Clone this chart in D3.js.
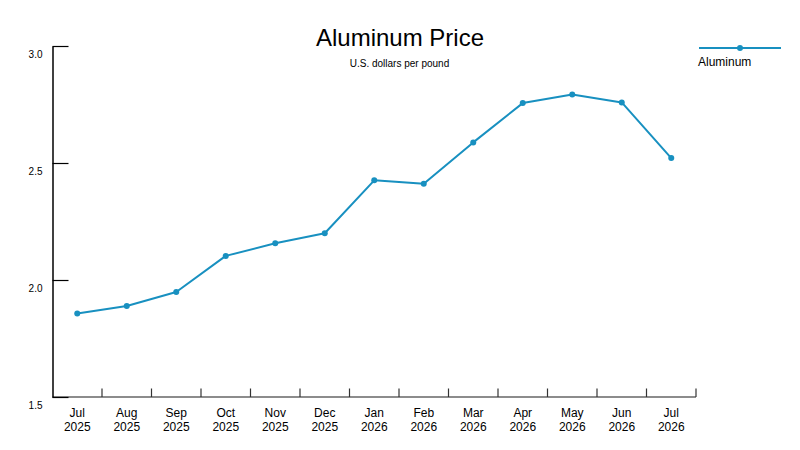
<!DOCTYPE html>
<html>
<head>
<meta charset="utf-8">
<script src="https://cdn.jsdelivr.net/npm/d3@7"></script>
<style>
  body { margin: 0; background: #fff; }
  svg { font-family: "Liberation Sans", Arial, sans-serif; }
</style>
</head>
<body>
<div id="chart-area"></div>
<script>
// Chart data
const months = ["Jul 2025", "Aug 2025", "Sep 2025", "Oct 2025", "Nov 2025", "Dec 2025",
                "Jan 2026", "Feb 2026", "Mar 2026", "Apr 2026", "May 2026", "Jun 2026", "Jul 2026"];
const prices = [1.857, 1.889, 1.949, 2.103, 2.157, 2.200, 2.426, 2.411, 2.588, 2.756, 2.793, 2.759, 2.521];
const yTicks = [1.5, 2.0, 2.5, 3.0];
const seriesName = "Aluminum";
const lineColor = "#1890c0";

const width = 800;
const height = 450;
const plot = { left: 52.5, right: 696, top: 46, bottom: 397 };

const svg = d3.select("#chart-area")
    .append("svg")
    .attr("width", width)
    .attr("height", height);

// Scales
const xScale = d3.scaleBand().domain(months).range([plot.left, plot.right]).padding(0);
const yScale = d3.scaleLinear().domain([1.5, 3.0]).range([plot.bottom, plot.top]);
const cx = d => xScale(d) + xScale.bandwidth() / 2;

// Title
svg.append("text")
    .attr("x", 400)
    .attr("y", 46)
    .attr("text-anchor", "middle")
    .attr("font-size", 24)
    .attr("fill", "#000")
    .text("Aluminum Price");

svg.append("text")
    .attr("x", 399.5)
    .attr("y", 66.5)
    .attr("text-anchor", "middle")
    .attr("font-size", 10)
    .attr("fill", "#000")
    .text("U.S. dollars per pound");

// X axis: gray line, ticks at band edges pointing up, labels centered in bands
const xAxisG = svg.append("g").attr("class", "x-axis");
xAxisG.append("line")
    .attr("x1", plot.left).attr("x2", plot.right)
    .attr("y1", plot.bottom).attr("y2", plot.bottom)
    .attr("stroke", "#666").attr("stroke-width", 1.5);

xAxisG.selectAll(".tick")
    .data(months)
    .enter()
    .append("line")
    .attr("class", "tick")
    .attr("x1", d => xScale(d) + xScale.bandwidth())
    .attr("x2", d => xScale(d) + xScale.bandwidth())
    .attr("y1", plot.bottom)
    .attr("y2", plot.bottom - 8.5)
    .attr("stroke", "#333").attr("stroke-width", 1.2);

const xLabels = xAxisG.selectAll(".label")
    .data(months)
    .enter()
    .append("text")
    .attr("class", "label")
    .attr("text-anchor", "middle")
    .attr("font-size", 12)
    .attr("fill", "#000");
xLabels.append("tspan")
    .attr("x", d => cx(d))
    .attr("y", 416.5)
    .text(d => d.split(" ")[0]);
xLabels.append("tspan")
    .attr("x", d => cx(d))
    .attr("y", 431)
    .text(d => d.split(" ")[1]);

// Y axis
const yAxis = d3.axisLeft(yScale)
    .tickValues(yTicks)
    .tickFormat(d3.format(".1f"))
    .tickSizeInner(-16)
    .tickSizeOuter(0)
    .tickPadding(10);

const yAxisG = svg.append("g")
    .attr("class", "y-axis")
    .attr("transform", "translate(" + plot.left + ",0)")
    .call(yAxis);

yAxisG.select(".domain").attr("stroke", "#000").attr("stroke-width", 1.5);
yAxisG.selectAll(".tick line").attr("stroke", "#000").attr("stroke-width", 1.2);
yAxisG.selectAll(".tick text")
    .attr("font-size", 10)
    .attr("font-family", "Liberation Sans, Arial, sans-serif")
    .attr("fill", "#000")
    .attr("dy", "1.15em");

// Line series
const line = d3.line()
    .x((d, i) => cx(months[i]))
    .y(d => yScale(d));

svg.append("path")
    .datum(prices)
    .attr("fill", "none")
    .attr("stroke", lineColor)
    .attr("stroke-width", 2)
    .attr("stroke-linejoin", "round")
    .attr("d", line);

svg.selectAll(".dot")
    .data(prices)
    .enter()
    .append("circle")
    .attr("class", "dot")
    .attr("cx", (d, i) => cx(months[i]))
    .attr("cy", d => yScale(d))
    .attr("r", 3)
    .attr("fill", lineColor);

// Legend
const legend = svg.append("g").attr("class", "legend");
legend.append("line")
    .attr("x1", 699).attr("x2", 781)
    .attr("y1", 48).attr("y2", 48)
    .attr("stroke", lineColor).attr("stroke-width", 2);
legend.append("circle")
    .attr("cx", 740).attr("cy", 48).attr("r", 3)
    .attr("fill", lineColor);
legend.append("text")
    .attr("x", 698)
    .attr("y", 66)
    .attr("font-size", 12)
    .attr("fill", "#000")
    .text(seriesName);
</script>
</body>
</html>
